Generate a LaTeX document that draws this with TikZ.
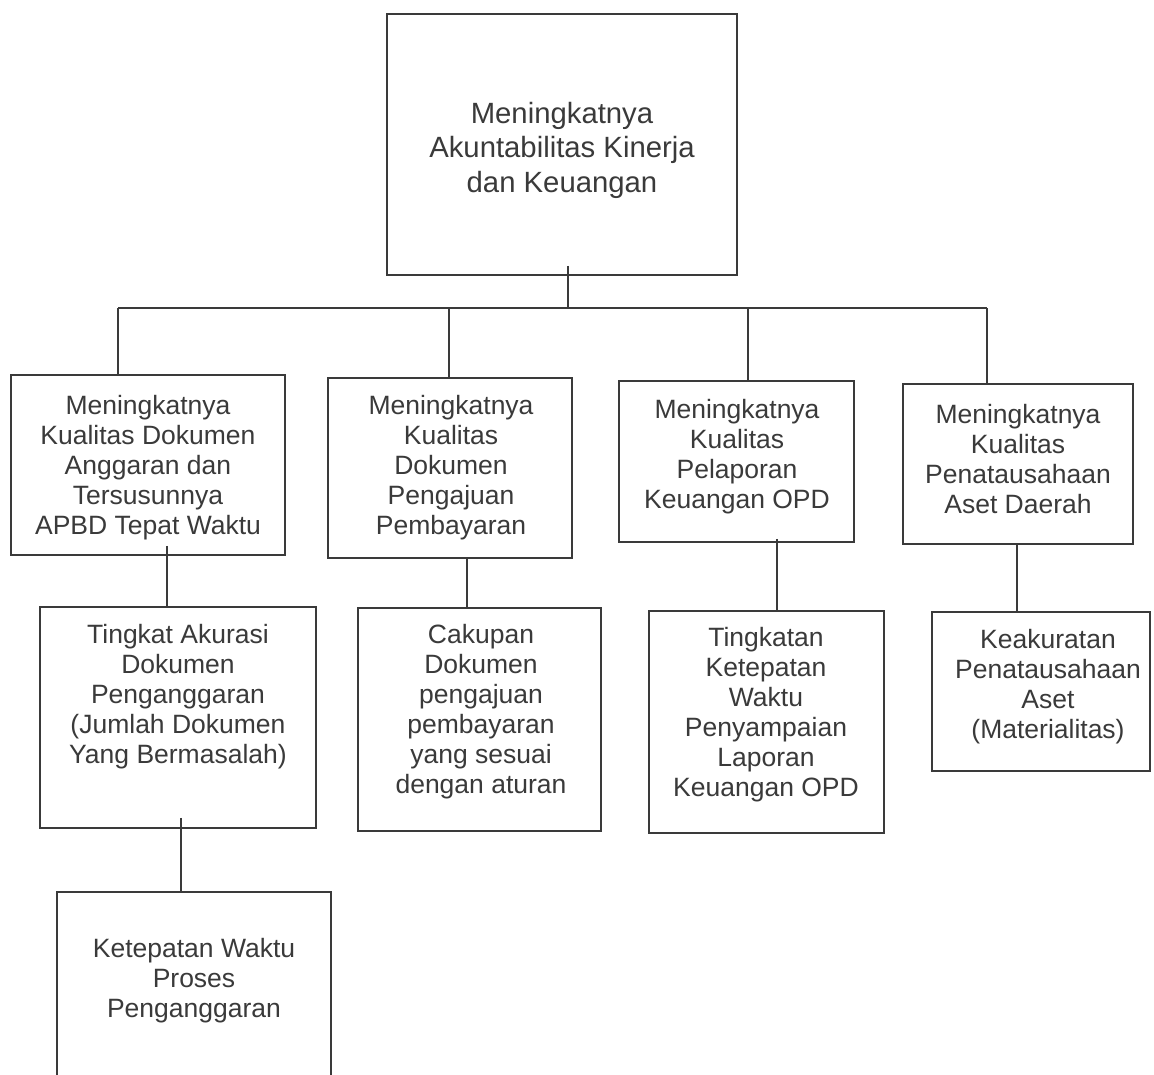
\documentclass[tikz,border=0pt]{standalone}
\usepackage{fontspec}
\setmainfont{Liberation Sans}
\definecolor{ink}{HTML}{3A3A3A}
\begin{document}
\begin{tikzpicture}[x=1pt,y=-1pt,
  box/.style={draw=ink, line width=1.8pt, inner sep=0pt},
  txt/.style={text=ink, align=center, font=\fontsize{26.5}{30}\selectfont, inner sep=0pt},
  bigtxt/.style={text=ink, align=center, font=\fontsize{29.3}{34.5}\selectfont, inner sep=0pt},
  link/.style={draw=ink, line width=1.8pt}]
\useasboundingbox (0,0) rectangle (1154,1074);
\clip (0,0) rectangle (1154,1074);
\fill[white] (0,0) rectangle (1154,1074);

% boxes
\node[box, minimum width=350pt, minimum height=261pt] (top) at (562,144.5) {};
\node[box, minimum width=274pt, minimum height=180pt] (b1) at (148,465) {};
\node[box, minimum width=244pt, minimum height=180pt] (b2) at (450,468) {};
\node[box, minimum width=235pt, minimum height=161pt] (b3) at (736.5,461.5) {};
\node[box, minimum width=230pt, minimum height=160pt] (b4) at (1018,464) {};
\node[box, minimum width=276pt, minimum height=221pt] (c1) at (178,717.5) {};
\node[box, minimum width=243pt, minimum height=223pt] (c2) at (479.5,719.5) {};
\node[box, minimum width=235pt, minimum height=222pt] (c3) at (766.5,722) {};
\node[box, minimum width=218pt, minimum height=159pt] (c4) at (1041,691.5) {};
\node[box, minimum width=274pt, minimum height=200pt] (d) at (194,992) {};

% texts
\node[bigtxt] (ttop) at (562,150) {Meningkatnya\\Akuntabilitas Kinerja\\dan Keuangan};
\node[txt] (tb1) at (148,468) {Meningkatnya\\Kualitas Dokumen\\Anggaran dan\\Tersusunnya\\APBD Tepat Waktu};
\node[txt] (tb2) at (451,468) {Meningkatnya\\Kualitas\\Dokumen\\Pengajuan\\Pembayaran};
\node[txt] (tb3) at (737,457) {Meningkatnya\\Kualitas\\Pelaporan\\Keuangan OPD};
\node[txt] (tb4) at (1018,459) {Meningkatnya\\Kualitas\\Penatausahaan\\Aset Daerah};
\node[txt] (tc1) at (178,697) {Tingkat Akurasi\\Dokumen\\Penganggaran\\(Jumlah Dokumen\\Yang Bermasalah)};
\node[txt] (tc2) at (481,712) {Cakupan\\Dokumen\\pengajuan\\pembayaran\\yang sesuai\\dengan aturan};
\node[txt] (tc3) at (766,715) {Tingkatan\\Ketepatan\\Waktu\\Penyampaian\\Laporan\\Keuangan OPD};
\node[txt] (tc4) at (1048,687) {Keakuratan\\Penatausahaan\\Aset\\(Materialitas)};
\node[txt] (td) at (194,981) {Ketepatan Waktu\\Proses\\Penganggaran};

% connectors
\coordinate (j0) at (568,308);
\coordinate (bl) at (118,308);
\coordinate (br) at (987,308);
\coordinate (j2) at (449,308);
\coordinate (j3) at (748,308);
\draw[link] ([xshift=6pt,yshift=10pt]top.south) -- (j0);
\draw[link] (bl) -- (br);
\draw[link] (bl) -- ([xshift=-30pt]b1.north);
\draw[link] (j2) -- ([xshift=-1pt]b2.north);
\draw[link] (j3) -- ([xshift=11.5pt]b3.north);
\draw[link] (br) -- ([xshift=-31pt]b4.north);
\draw[link] ([xshift=19pt,yshift=10pt]b1.south) -- ([xshift=-11pt]c1.north);
\draw[link] ([xshift=17pt]b2.south) -- ([xshift=-12.5pt]c2.north);
\draw[link] ([xshift=40.5pt,yshift=4pt]b3.south) -- ([xshift=10.5pt]c3.north);
\draw[link] ([xshift=-1pt]b4.south) -- ([xshift=-24pt]c4.north);
\draw[link] ([xshift=3pt,yshift=11pt]c1.south) -- ([xshift=-13pt]d.north);
\end{tikzpicture}
\end{document}
